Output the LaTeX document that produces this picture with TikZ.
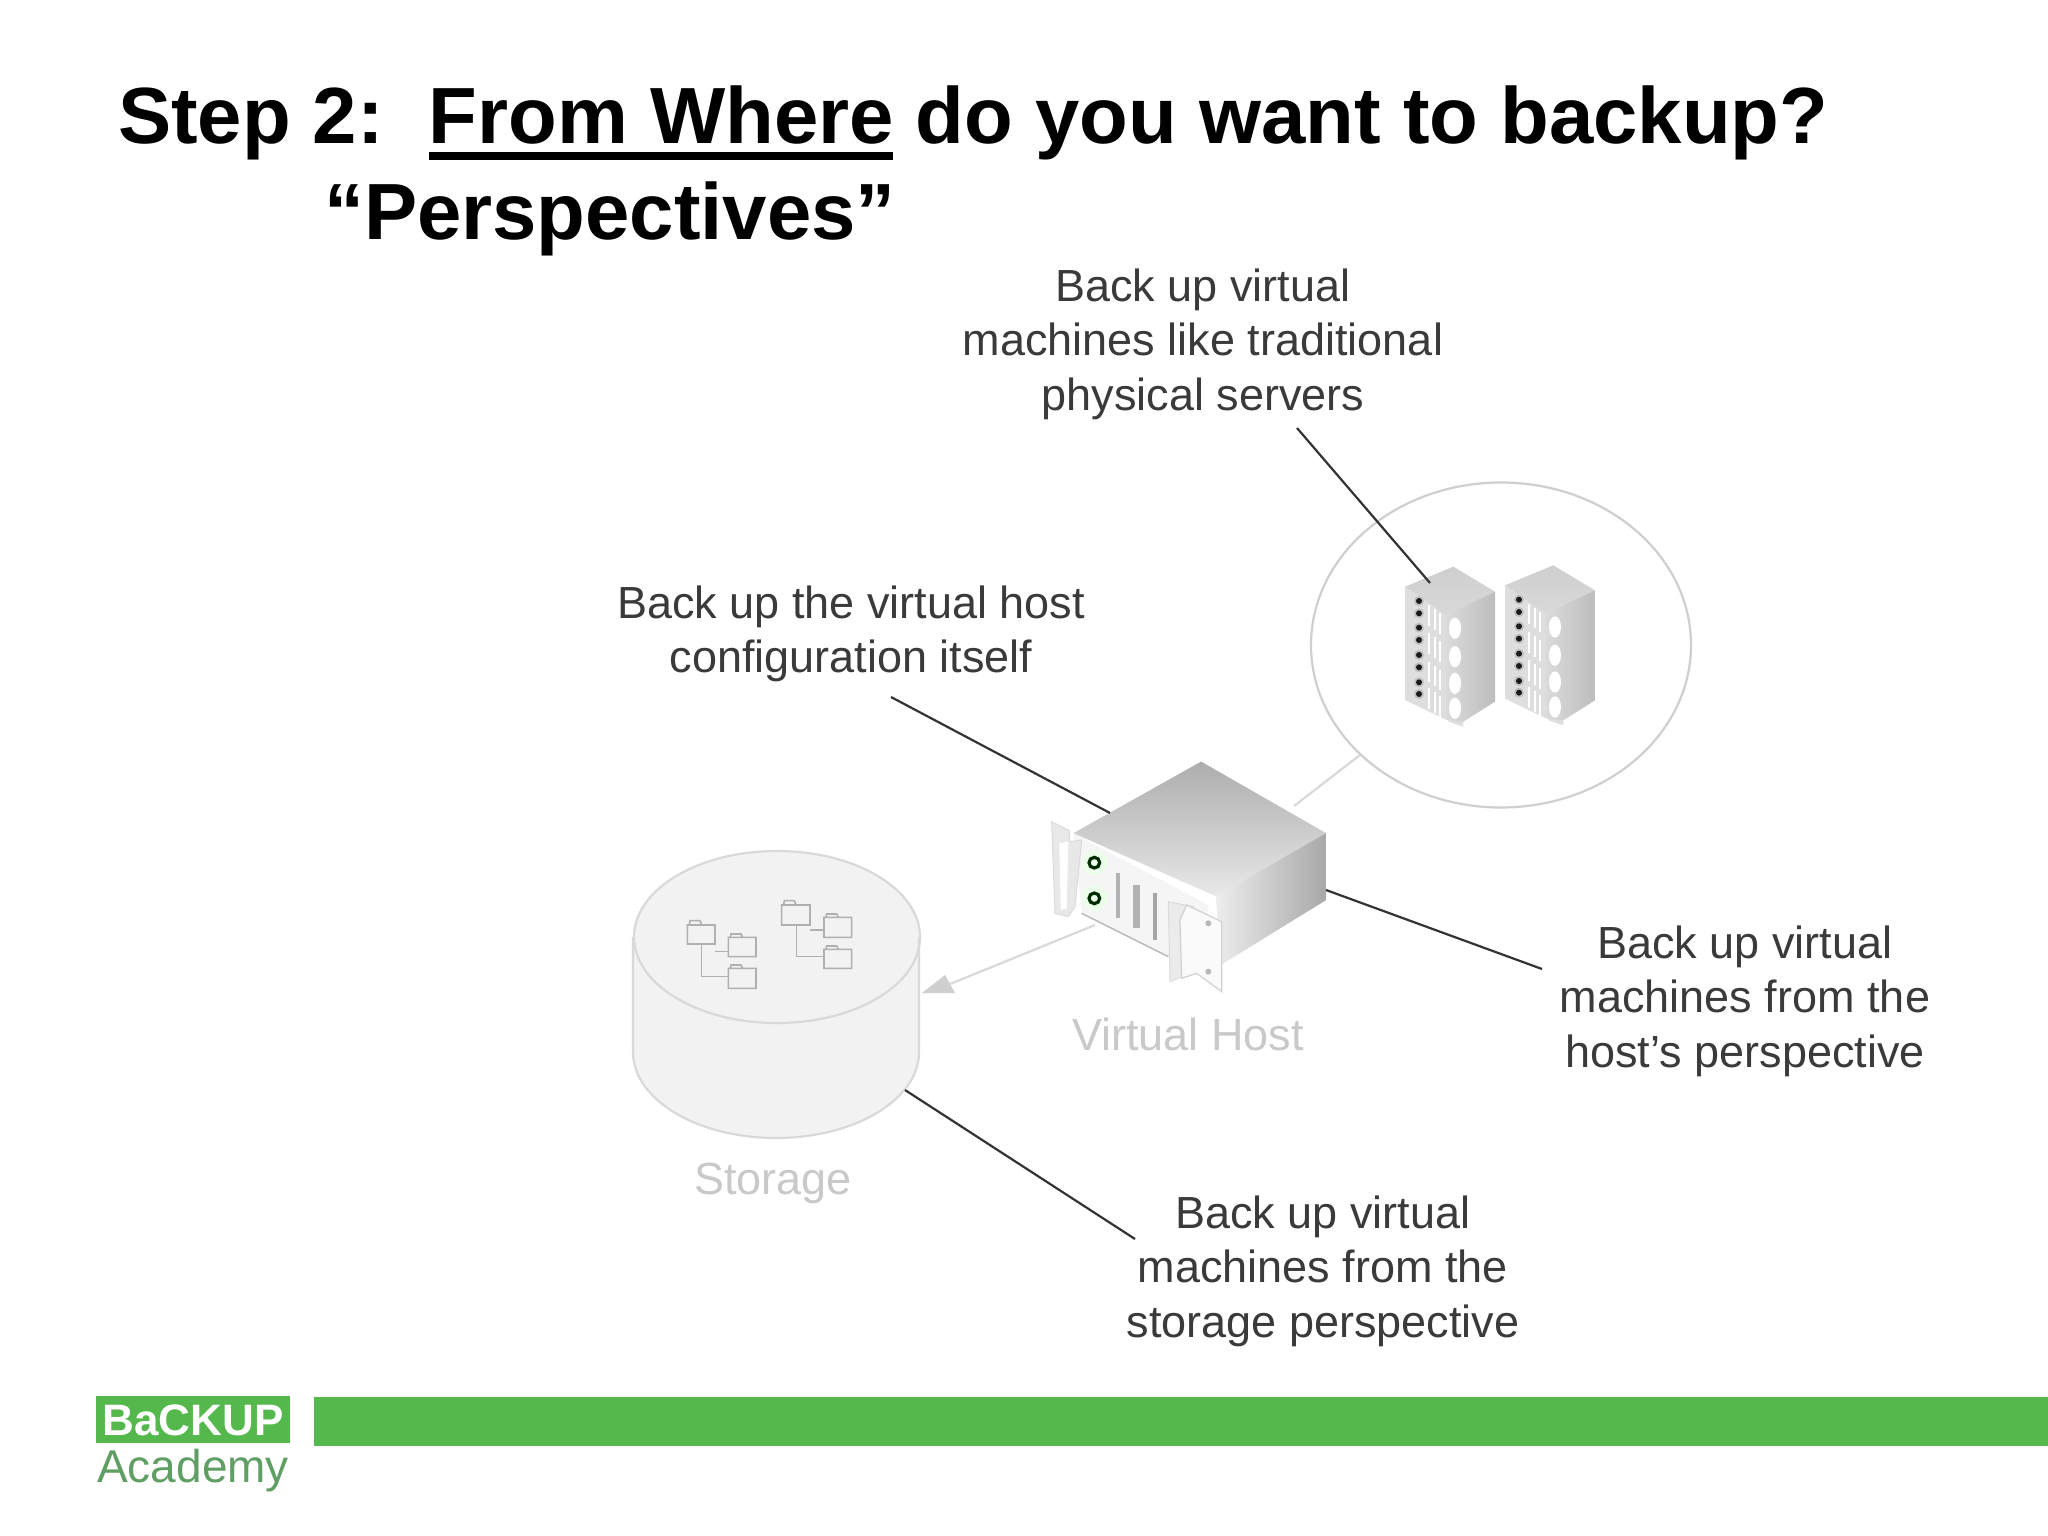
\documentclass[tikz,border=0pt]{standalone}
\usepackage{fontspec}
\usetikzlibrary{shapes.geometric}
\setmainfont{Liberation Sans}
\definecolor{barg}{HTML}{54B84C}
\definecolor{acad}{HTML}{5F9F63}
\definecolor{lab}{HTML}{3A3A3A}
\definecolor{pale}{HTML}{C9C9C9}
\definecolor{edge}{HTML}{CFCFCF}
\tikzset{
  caption/.style={font=\fontsize{45}{54.6}\selectfont,text=lab,align=center,inner sep=0pt},
  palecap/.style={font=\fontsize{45}{54.6}\selectfont,text=pale,align=center,inner sep=0pt},
  titletext/.style={font=\fontsize{79.7}{94}\bfseries\selectfont,anchor=base west,inner sep=0pt},
  pointer/.style={draw=black!80,line width=2.2pt},
  faint/.style={draw=edge!80!white,line width=2.2pt},
  folderbox/.style={draw=edge!85!black,line width=1.6pt},
  slit/.style={draw=white,line width=2pt}
}
\newcommand{\rackshape}{%
  \shade[top color=black!19,bottom color=black!15] (30,95)--(175,35)--(300,110)--(150,180)--cycle;
  \fill[black!13] (30,95)--(150,180)--(160,500)--(205,515)--(205,470)--(155,495)--(30,435)--cycle;
  \shade[left color=black!14,right color=black!26] (150,180)--(300,110)--(300,440)--(205,500)--(155,495)--cycle;
  \foreach \yy in {138,175,218,255,300,337,382,417}{\fill[black!25] (72,\yy) circle (15);\fill[black!90] (72,\yy) circle (9);}
  \foreach \xx/\dy in {102/0,120/12,136/24}{\foreach \yy in {150,235,320,400}{\draw[slit] (\xx,\yy+\dy)--(\xx,\yy+\dy+62);}}
  \foreach \yy in {220,305,385,460}{\fill[white] (180,\yy) ellipse (18 and 32);}
}
\begin{document}
\begin{tikzpicture}[x=1pt,y=-1pt]
\useasboundingbox (0,0) rectangle (2048,1536);
\fill[white] (0,0) rectangle (2048,1536);
% title
\node[titletext] (title1) at (118,144) {Step 2:\hspace{45pt}\rlap{\rule[-16pt]{464pt}{8pt}}From Where do you want to backup?};
\node[titletext] (title2) at (324,239) {“Perspectives”};
% captions
\node[caption] (capvm) at (1203,344) {Back up virtual\\machines like traditional\\physical servers};
\node[caption] (capcfg) at (851,634) {Back up the virtual host\\configuration itself};
\node[caption] (caphost) at (1745,1001) {Back up virtual\\machines from the\\host’s perspective};
\node[caption] (capstor) at (1323,1271) {Back up virtual\\machines from the\\storage perspective};
\node[palecap] (vhost) at (1188,1034) {Virtual Host};
\node[palecap] (stor) at (773,1183) {Storage};
% circle
\node[draw=edge,line width=2.2pt,ellipse,minimum width=380pt,minimum height=325pt,inner sep=0pt] (bubble) at (1501,645) {};
% named ends
\coordinate (a0) at (1297,428); \coordinate (a1) at (1430,583);
\coordinate (b0) at (891,697); \coordinate (b1) at (1110,813);
\coordinate (c0) at (1326,890); \coordinate (c1) at (1542,969);
\coordinate (d0) at (905,1090); \coordinate (d1) at (1135,1239);
\coordinate (e0) at (1360,755); \coordinate (e1) at (1294,806);
\coordinate (f0) at (1095,925); \coordinate (f1) at (950,984);
% storage
\fill[black!5] (633,937) -- (633,1052) arc[start angle=180,end angle=0,x radius=143,y radius=86] -- (919,937) arc[start angle=0,end angle=-180,x radius=143,y radius=86] -- cycle;
\draw[faint] (633,937) -- (633,1052) arc[start angle=180,end angle=0,x radius=143,y radius=86] -- (919,937);
\draw[faint] (777,937) ellipse (143 and 86);
\begin{scope}[shift={(600,830)},x=.3333pt,y=-.3333pt]
  \draw[folderbox] (262,285) rectangle (345,342) (268,285)--(270,272)--(300,272)--(305,285);
  \draw[folderbox] (385,322) rectangle (468,380) (391,322)--(393,312)--(423,312)--(428,322);
  \draw[folderbox] (385,415) rectangle (468,475) (391,415)--(393,405)--(423,405)--(428,415);
  \draw[folderbox] (305,342)--(305,440)--(385,440);
  \draw[folderbox] (345,365)--(385,365);
  \draw[folderbox] (545,225) rectangle (630,285) (551,225)--(553,212)--(583,212)--(588,225);
  \draw[folderbox] (672,262) rectangle (755,322) (678,262)--(680,252)--(710,252)--(715,262);
  \draw[folderbox] (672,358) rectangle (755,415) (678,358)--(680,348)--(710,348)--(715,358);
  \draw[folderbox] (590,285)--(590,380)--(672,380);
  \draw[folderbox] (630,300)--(672,300);
\end{scope}
% faint links
\draw[faint] (e0) -- (e1);
\draw[faint] (f0) -- (f1);
\fill[edge] (922,993)--(945,975)--(955,993)--cycle;
% racks
\begin{scope}[shift={(1395,555)},x=.3333pt,y=-.3333pt]
  \rackshape
  \begin{scope}[shift={(300,-4)}]\rackshape\end{scope}
\end{scope}
% host body
\begin{scope}[shift={(1000,460)},x=.4592pt,y=-.3827pt]
  \shade[top color=black!32,bottom color=black!9] (438,788)--(710,975)--(470,1140)--(160,975)--cycle;
  \shade[left color=black!7,right color=black!34] (470,1140)--(710,975)--(710,1150)--(480,1320)--cycle;
\end{scope}
% host front panel
\begin{scope}[shift={(1040,810)},x=.3333pt,y=-.3333pt]
  \fill[black!4] (100,70)--(505,285)--(500,480)--(385,440)--(125,310)--cycle;
  \filldraw[fill=black!9,draw=black!14,line width=1pt] (35,35)--(88,62)--(90,95)--(125,90)--(105,290)--(85,320)--(45,310)--cycle;
  \fill[white] (58,100)--(85,95)--(80,295)--(62,300)--cycle;
  \draw[black!28,line width=1.4pt] (125,310)--(385,440);
  \filldraw[fill=black!8,draw=black!14,line width=1pt] (385,275)--(460,290)--(420,330)--(425,500)--(390,515)--cycle;
  \filldraw[fill=black!2,draw=black!18,line width=1.2pt] (440,285)--(545,335)--(545,545)--(470,490)--(425,505)--(420,330)--cycle;
  \fill[black!28] (505,340) circle (9);
  \fill[black!28] (505,485) circle (9);
  \fill[green!8] (163,158) circle (38);
  \fill[green!8] (163,265) circle (38);
  \draw[black!72!green!60!black,line width=3.2pt] (163,158) circle (16);
  \draw[black!72!green!60!black,line width=3.2pt] (163,265) circle (16);
  \draw[black!30,line width=4pt] (235,190)--(235,325);
  \draw[black!30,line width=7pt] (290,225)--(290,355);
  \draw[black!35,line width=4.6pt] (345,250)--(345,390);
\end{scope}
% pointers
\draw[pointer] (a0) -- (a1);
\draw[pointer] (b0) -- (b1);
\draw[pointer] (c0) -- (c1);
\draw[pointer] (d0) -- (d1);
% footer
\node[fill=barg,minimum width=1734pt,minimum height=49pt,inner sep=0pt,anchor=north west] (bar) at (314,1397) {};
\node[fill=barg,minimum width=194pt,minimum height=47pt,inner sep=0pt,anchor=north west] (logobox) at (96,1396) {};
\node[font=\fontsize{44}{44}\bfseries\selectfont,text=white,inner sep=0pt] (logo1) at (193,1420) {BaCKUP};
\node[font=\fontsize{46}{46}\selectfont,text=acad,inner sep=0pt,anchor=base west] (logo2) at (97,1482) {Academy};
\end{tikzpicture}
\end{document}
